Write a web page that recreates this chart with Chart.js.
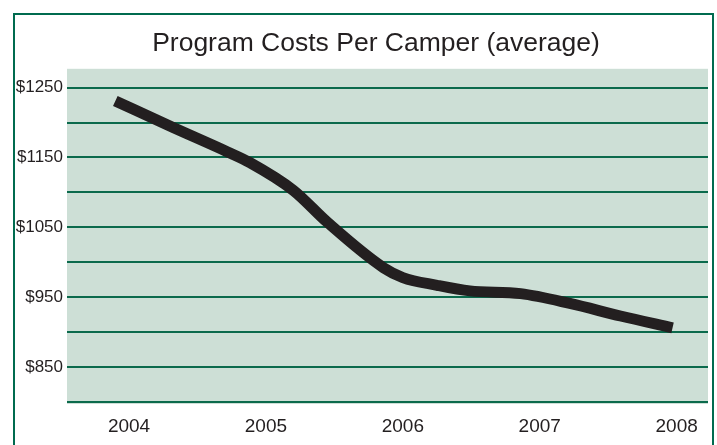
<!DOCTYPE html>
<html>
<head>
<meta charset="utf-8">
<script src="https://cdn.jsdelivr.net/npm/chart.js@4/dist/chart.umd.min.js"></script>
<style>
    body { margin: 0; background: #ffffff; }
    #wrap { position: relative; width: 717px; height: 445px; overflow: hidden; }
    #frame {
        position: absolute; left: 13px; top: 13px;
        width: 701px; height: 460px;
        box-sizing: border-box;
        border: 2px solid #006b4f;
    }
    canvas { position: absolute; left: 0; top: 0; }
</style>
</head>
<body>
<div id="wrap">
    <div id="frame"></div>
    <canvas id="costChart" width="717" height="445"></canvas>
</div>
<script>
// 数据：年份位置（小数年）与平均费用
const pointYears = [2003.90, 2004.31, 2004.72, 2004.88, 2005.20, 2005.45, 2005.86, 2006.00, 2006.25, 2006.49, 2006.86, 2007.22, 2007.59, 2007.97];
const costs = [1231, 1194, 1158, 1143, 1103, 1057, 992, 978, 967, 959, 955, 941, 923, 906];

// 坐标轴刻度
const xTicks = [2004, 2005, 2006, 2007, 2008];
const yTicks = [800, 850, 900, 950, 1000, 1050, 1100, 1150, 1200, 1250];
const yLabels = [850, 950, 1050, 1150, 1250];

// 绘图区背景
const plotBg = {
    id: 'plotBg',
    beforeDraw(chart) {
        const a = chart.chartArea;
        const ctx = chart.ctx;
        ctx.save();
        ctx.fillStyle = '#cddfd6';
        ctx.fillRect(a.left, a.top, a.right - a.left, a.bottom - a.top);
        ctx.restore();
    }
};

// 标题稍微右移
const titleShift = {
    id: 'titleShift',
    afterLayout(chart) {
        if (chart.titleBlock) {
            chart.titleBlock.left += 22;
            chart.titleBlock.right += 22;
        }
    }
};

document.addEventListener('DOMContentLoaded', function () {
    const ctx = document.getElementById('costChart').getContext('2d');
    const costChart = new Chart(ctx, {
        type: 'line',
        data: {
            datasets: [{
                data: pointYears.map((yr, i) => ({ x: yr, y: costs[i] })),
                borderColor: '#231f20',
                borderWidth: 11,
                borderCapStyle: 'butt',
                borderJoinStyle: 'round',
                pointRadius: 0,
                fill: false,
                cubicInterpolationMode: 'monotone'
            }]
        },
        options: {
            responsive: false,
            animation: false,
            layout: {
                padding: { left: 0, right: 9, top: 0, bottom: 0 }
            },
            scales: {
                x: {
                    type: 'linear',
                    min: 2003.547,
                    max: 2008.229,
                    afterBuildTicks: function (scale) {
                        scale.ticks = xTicks.map(v => ({ value: v }));
                    },
                    afterFit: function (scale) {
                        scale.height = 41;
                    },
                    grid: {
                        display: false,
                        drawTicks: false
                    },
                    border: { display: false },
                    ticks: {
                        color: '#231f20',
                        padding: 11,
                        font: { family: 'Liberation Sans, Arial, sans-serif', size: 19 },
                        callback: v => String(v)
                    }
                },
                y: {
                    min: 797,
                    max: 1277,
                    afterBuildTicks: function (scale) {
                        scale.ticks = yTicks.map(v => ({ value: v }));
                    },
                    afterFit: function (scale) {
                        scale.width = 67;
                    },
                    grid: {
                        color: '#0b6a4c',
                        lineWidth: 2,
                        drawTicks: false
                    },
                    border: { display: false },
                    ticks: {
                        color: '#231f20',
                        padding: 4,
                        font: { family: 'Liberation Sans, Arial, sans-serif', size: 17 },
                        callback: v => yLabels.includes(v) ? '$' + v : ''
                    }
                }
            },
            plugins: {
                legend: { display: false },
                tooltip: { enabled: false },
                title: {
                    display: true,
                    text: 'Program Costs Per Camper (average)',
                    color: '#231f20',
                    font: { family: 'Liberation Sans, Arial, sans-serif', size: 26.5, weight: 'normal' },
                    padding: { top: 28, bottom: 9 }
                }
            }
        },
        plugins: [plotBg, titleShift]
    });
});
</script>
</body>
</html>
